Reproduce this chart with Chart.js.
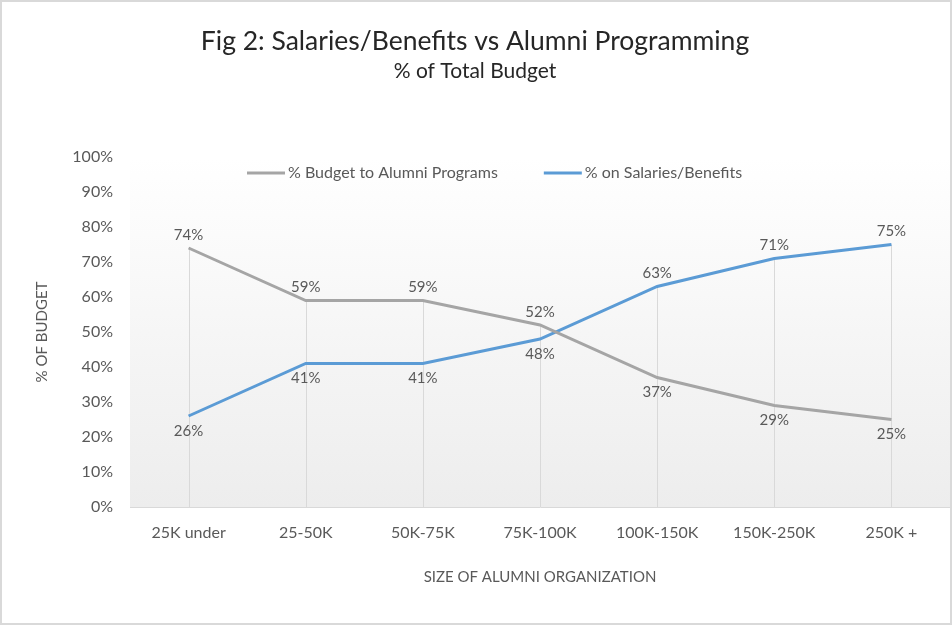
<!DOCTYPE html>
<html>
<head>
<meta charset="utf-8">
<script src="https://cdn.jsdelivr.net/npm/chart.js@4/dist/chart.umd.min.js"></script>
<style>
  html, body { margin: 0; padding: 0; background: #fff; }
  #wrap { width: 952px; height: 625px; }
</style>
</head>
<body>
<div id="wrap"><canvas id="chart" width="952" height="625"></canvas></div>
<script>
const sizes = ["25K under", "25-50K", "50K-75K", "75K-100K", "100K-150K", "150K-250K", "250K +"];
const programs = [74, 59, 59, 52, 37, 29, 25];
const salaries = [26, 41, 41, 48, 63, 71, 75];
const yTicks = [0, 10, 20, 30, 40, 50, 60, 70, 80, 90, 100];

const FONT = "Lato, 'Open Sans', sans-serif";
const TXT = "#595959";
const GRAY = "#a5a5a5";
const BLUE = "#5b9bd5";

// plot background gradient + outer frame
const backdrop = {
    id: "backdrop",
    beforeDraw(chart) {
        const { ctx, chartArea: a } = chart;
        ctx.save();
        ctx.fillStyle = "#fff";
        ctx.fillRect(0, 0, chart.width, chart.height);
        const g = ctx.createLinearGradient(0, a.top, 0, a.bottom);
        g.addColorStop(0, "#ffffff");
        g.addColorStop(1, "#ededed");
        ctx.fillStyle = g;
        ctx.fillRect(a.left, a.top, a.right - a.left, a.bottom - a.top);
        ctx.restore();
    },
    afterDraw(chart) {
        const ctx = chart.ctx;
        ctx.save();
        ctx.strokeStyle = "#d9d9d9";
        ctx.lineWidth = 2;
        ctx.strokeRect(1, 1, chart.width - 2, chart.height - 2);
        ctx.restore();
    }
};

// drop lines from the higher point down to the axis
const dropLines = {
    id: "dropLines",
    beforeDatasetsDraw(chart) {
        const { ctx, scales: { x, y } } = chart;
        ctx.save();
        ctx.strokeStyle = "#d9d9d9";
        ctx.lineWidth = 1;
        sizes.forEach((s, i) => {
            const top = Math.max(programs[i], salaries[i]);
            const px = Math.round(x.getPixelForValue(i)) + 0.5;
            ctx.beginPath();
            ctx.moveTo(px, y.getPixelForValue(top));
            ctx.lineTo(px, y.getPixelForValue(0));
            ctx.stroke();
        });
        ctx.restore();
    }
};

// value labels: higher series above, lower series below
const valueLabels = {
    id: "valueLabels",
    afterDatasetsDraw(chart) {
        const ctx = chart.ctx;
        ctx.save();
        ctx.font = "15px " + FONT;
        ctx.fillStyle = TXT;
        ctx.textAlign = "center";
        ctx.textBaseline = "middle";
        chart.data.datasets.forEach((ds, di) => {
            const other = chart.data.datasets[1 - di].data;
            chart.getDatasetMeta(di).data.forEach((pt, i) => {
                const above = ds.data[i] >= other[i];
                ctx.fillText(ds.data[i] + "%", pt.x, pt.y + (above ? -13 : 15));
            });
        });
        ctx.restore();
    }
};

// legend drawn inside the plot, at the top
const innerLegend = {
    id: "innerLegend",
    afterDraw(chart) {
        const ctx = chart.ctx;
        const y = 173;
        ctx.save();
        ctx.font = "16px " + FONT;
        ctx.fillStyle = TXT;
        ctx.textBaseline = "middle";
        ctx.lineWidth = 3;
        let x = 247;
        chart.data.datasets.forEach(ds => {
            ctx.strokeStyle = ds.borderColor;
            ctx.beginPath();
            ctx.moveTo(x, y);
            ctx.lineTo(x + 38, y);
            ctx.stroke();
            ctx.fillText(ds.label, x + 41, y);
            x += 41 + ctx.measureText(ds.label).width + 46;
        });
        ctx.restore();
    }
};

new Chart(document.getElementById("chart"), {
    type: "line",
    data: {
        labels: sizes,
        datasets: [
            { label: "% Budget to Alumni Programs", data: programs, borderColor: GRAY, backgroundColor: GRAY },
            { label: "% on Salaries/Benefits", data: salaries, borderColor: BLUE, backgroundColor: BLUE }
        ]
    },
    options: {
        responsive: false,
        animation: false,
        layout: { padding: { top: 0, right: 2, bottom: 0, left: 0 } },
        elements: {
            line: { borderWidth: 3, tension: 0 },
            point: { radius: 0, hoverRadius: 0 }
        },
        plugins: {
            legend: { display: false },
            tooltip: { enabled: false },
            title: {
                display: true,
                text: "Fig 2: Salaries/Benefits vs Alumni Programming",
                color: "#262626",
                font: { family: FONT, size: 26.5, weight: "normal" },
                padding: { top: 26, bottom: 0 }
            },
            subtitle: {
                display: true,
                text: "% of Total Budget",
                color: "#262626",
                font: { family: FONT, size: 21, weight: "normal" },
                padding: { top: 1, bottom: 73 }
            }
        },
        scales: {
            x: {
                offset: true,
                grid: { display: false, drawTicks: false },
                border: { display: true, color: "#d9d9d9", width: 1 },
                ticks: { color: TXT, font: { family: FONT, size: 16 }, padding: 16, maxRotation: 0 },
                title: {
                    display: true,
                    text: "SIZE OF ALUMNI ORGANIZATION",
                    color: TXT,
                    font: { family: FONT, size: 15 },
                    padding: { top: 0, bottom: 39 }
                },
                afterFit: s => { s.height = 118; }
            },
            y: {
                min: 0,
                max: 100,
                afterBuildTicks: s => { s.ticks = yTicks.map(v => ({ value: v })); },
                grid: { display: false, drawTicks: false },
                border: { display: false },
                ticks: { color: TXT, font: { family: FONT, size: 16 }, padding: 17, callback: v => v + "%" },
                title: {
                    display: true,
                    text: "% OF BUDGET",
                    color: TXT,
                    font: { family: FONT, size: 15 },
                    padding: { top: 33, bottom: 0 }
                },
                afterFit: s => { s.width = 130; }
            }
        }
    },
    plugins: [backdrop, dropLines, valueLabels, innerLegend]
});
</script>
</body>
</html>
